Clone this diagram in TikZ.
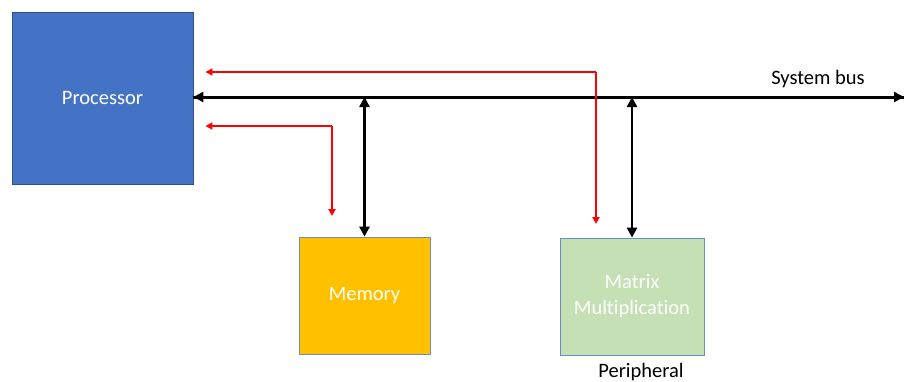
\documentclass[tikz,border=0pt]{standalone}
\usepackage{fontspec}
\setmainfont{Carlito}[Ligatures=NoCommon]
\usetikzlibrary{arrows.meta,calc}
\definecolor{procblue}{HTML}{4472C4}
\definecolor{procedge}{HTML}{2F528F}
\definecolor{memyellow}{HTML}{FFC000}
\definecolor{matgreen}{HTML}{C5E0B4}
\definecolor{boxedge}{HTML}{6C8EBF}
\begin{document}
\begin{tikzpicture}[x=1pt,y=-1pt,
  blockbox/.style={draw, line width=0.8pt, inner sep=0pt, text=white, align=center, font=\fontsize{20.5}{26}\selectfont},
  busline/.style={line width=3pt, black, -{Triangle[length=10pt,width=10pt]}},
  dbl/.style={line width=2.8pt, black, {Triangle[length=10pt,width=10pt]}-{Triangle[length=10pt,width=10pt]}},
  redarrow/.style={line width=2.1pt, red, -{Triangle[length=7pt,width=7pt]}},
  lbl/.style={font=\fontsize{20.5}{25}\selectfont, text=black, inner sep=0pt}]
\useasboundingbox (0,0) rectangle (904,381);
\node[blockbox, fill=procblue, draw=procedge, minimum width=181pt, minimum height=172pt] (proc) at (102.5,98) {Processor};
\node[blockbox, fill=memyellow, draw=boxedge, minimum width=131pt, minimum height=117pt] (mem) at (364.5,295.5) {Memory};
\node[blockbox, fill=matgreen, draw=boxedge, minimum width=144pt, minimum height=117pt] (mat) at (632,296.5) {Matrix\\Multiplication};
\node[lbl] (sysbus) at (818,79) {System bus};
\node[lbl] (periph) at (641,372) {Peripheral};
% bus
\coordinate (busL) at (proc.east |- 0,97);
\coordinate (busR) at (904,97);
\coordinate (memtap) at (mem.north |- 0,97);
\coordinate (mattap) at (mat.north |- 0,97);
\draw[busline] (busR) -- (busL);
\draw[busline] (busL) -- (busR);
\draw[dbl] (memtap) -- (mem.north);
\draw[dbl] (mattap) -- (mat.north);
% red control arrows
\coordinate (r1a) at (596,72);
\coordinate (r1b) at (596,224);
\coordinate (r2a) at (332,126);
\coordinate (r2b) at (332,216);
\coordinate (p1) at ($(proc.east |- r1a)+(12,0)$);
\coordinate (p2) at ($(proc.east |- r2a)+(12,0)$);
\draw[redarrow] (r1a) -- (p1);
\draw[redarrow] (r1a) -- (r1b);
\draw[redarrow] (r2a) -- (p2);
\draw[redarrow] (r2a) -- (r2b);
\end{tikzpicture}
\end{document}
